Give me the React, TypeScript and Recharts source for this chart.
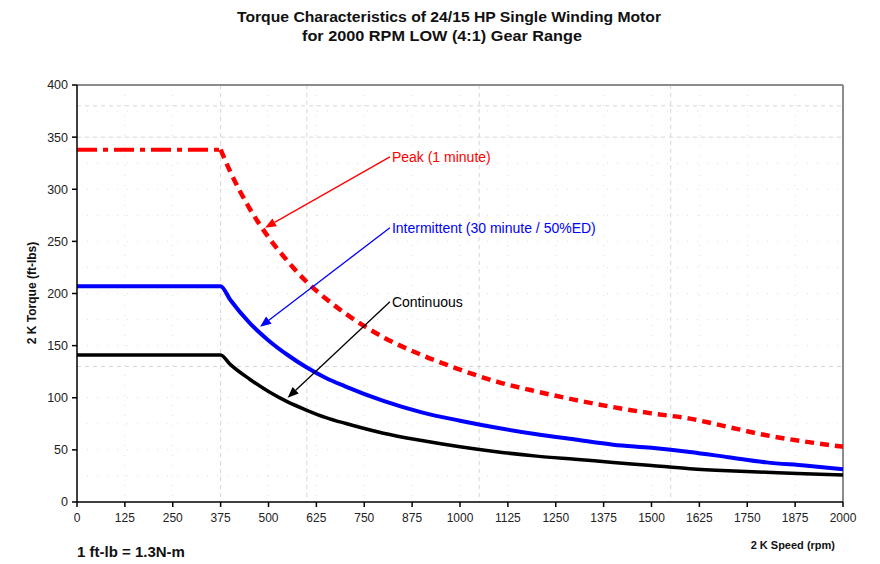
import { LineChart, Line, XAxis, YAxis, CartesianGrid, ReferenceLine } from "recharts";

const speed = [0, 375, 400, 450, 500, 550, 600, 650, 700, 800, 900, 1000, 1100, 1200, 1300, 1400, 1500, 1600, 1700, 1800, 1900, 2000];
const peak = [338, 338, 317, 282, 254, 231, 211, 195, 181, 158, 141, 127, 115, 106, 98, 91, 85, 80, 72, 64, 58, 53];
const intermittent = [207, 207, 194, 172, 155, 141, 129, 119, 111, 97, 86, 78, 71, 65, 60, 55, 52, 48, 43, 38, 35, 31.5];
const continuous = [141, 141, 132, 118, 106, 96, 88, 81, 75.5, 66, 59, 53, 48, 44, 41, 38, 35, 32, 30, 28.5, 27, 26];

const xTicks = [0, 125, 250, 375, 500, 625, 750, 875, 1000, 1125, 1250, 1375, 1500, 1625, 1750, 1875, 2000];
const yTicks = [0, 50, 100, 150, 200, 250, 300, 350, 400];
const dottedRows = [25, 50, 75, 100, 150, 175, 200, 225, 250, 275, 300, 325, 375];
const dashedCols = [375, 600, 1050, 1550];
const dashedRows = [380, 350, 130];

const notes = [
  { text: "Peak (1 minute)", color: "#ff0000", from: { x: 817, y: 331 }, to: { x: 491, y: 263 } },
  { text: "Intermittent (30 minute / 50%ED)", color: "#0000ff", from: { x: 817, y: 263 }, to: { x: 478, y: 168 } },
  { text: "Continuous", color: "#000000", from: { x: 817, y: 192 }, to: { x: 550, y: 100 } },
];

const data = speed.map((s, i) => ({
  speed: s,
  peakFlat: i <= 1 ? peak[i] : null,
  peakFall: i >= 1 ? peak[i] : null,
  intermittent: intermittent[i],
  continuous: continuous[i],
}));

const font = '"Liberation Sans", Arial, sans-serif';

const arrowShape = (text: string, color: string) => (props: any) => {
  const { x1, y1, x2, y2 } = props;
  const ang = Math.atan2(y2 - y1, x2 - x1);
  const len = 11;
  const w = 4.5;
  const bx = x2 - len * Math.cos(ang);
  const by = y2 - len * Math.sin(ang);
  const px = -Math.sin(ang) * w;
  const py = Math.cos(ang) * w;
  return (
    <g>
      <line x1={x1} y1={y1} x2={bx} y2={by} stroke={color} strokeWidth={1.3} />
      <polygon points={`${x2},${y2} ${bx + px},${by + py} ${bx - px},${by - py}`} fill={color} />
      <text x={x1 + 2} y={y1} dy="0.35em" fill={color} fontSize={14} fontFamily={font}>
        {text}
      </text>
    </g>
  );
};

export default function App() {
  return (
    <div style={{ position: "absolute", left: 0, top: 0, width: 880, height: 564, background: "#fff", fontFamily: font }}>
      <LineChart width={880} height={564} data={data} margin={{ top: 85, right: 37, bottom: 0, left: 0 }}>
        <CartesianGrid stroke="#dedede" strokeDasharray="1 9" horizontalValues={dottedRows} verticalValues={xTicks} />
        <CartesianGrid stroke="#d6d6d6" strokeDasharray="4 4" horizontalValues={dashedRows} verticalValues={dashedCols} />
        <ReferenceLine y={400} stroke="#8c8c8c" strokeWidth={2} />
        <ReferenceLine x={2000} stroke="#8c8c8c" strokeWidth={2} />
        <XAxis
          dataKey="speed"
          type="number"
          domain={[0, 2000]}
          ticks={xTicks}
          height={62}
          tickSize={5}
          tickMargin={6}
          stroke="#000"
          strokeWidth={1.5}
          tick={{ fontSize: 12, fill: "#222", fontFamily: font }}
        />
        <YAxis
          type="number"
          domain={[0, 400]}
          ticks={yTicks}
          width={77}
          tickSize={5}
          tickMargin={4}
          stroke="#000"
          strokeWidth={1.5}
          tick={{ fontSize: 12.5, fill: "#222", fontFamily: font }}
        />
        <Line dataKey="continuous" type="monotone" stroke="#000" strokeWidth={3.5} dot={false} isAnimationActive={false} />
        <Line dataKey="intermittent" type="monotone" stroke="#0000ff" strokeWidth={4} dot={false} isAnimationActive={false} />
        <Line dataKey="peakFlat" type="linear" stroke="#ff0000" strokeWidth={4} strokeDasharray="20 6 5 6" dot={false} connectNulls={false} isAnimationActive={false} />
        <Line dataKey="peakFall" type="monotone" stroke="#ff0000" strokeWidth={4.5} strokeDasharray="9 6" dot={false} connectNulls={false} isAnimationActive={false} />
        {notes.map((n) => (
          <ReferenceLine key={n.text} segment={[n.from, n.to]} ifOverflow="visible" shape={arrowShape(n.text, n.color)} />
        ))}
      </LineChart>
      <svg width={880} height={564} style={{ position: "absolute", left: 0, top: 0, pointerEvents: "none" }}>
        <text x={449} y={22} textAnchor="middle" fontSize={14} fontWeight="bold" fontFamily={font} fill="#111" textLength={424} lengthAdjust="spacingAndGlyphs">
          Torque Characteristics of 24/15 HP Single Winding Motor
        </text>
        <text x={442} y={41} textAnchor="middle" fontSize={14} fontWeight="bold" fontFamily={font} fill="#111" textLength={280} lengthAdjust="spacingAndGlyphs">
          for 2000 RPM LOW (4:1) Gear Range
        </text>
        <text transform="translate(36,293) rotate(-90)" textAnchor="middle" fontSize={12} fontWeight="bold" fontFamily={font} fill="#111">
          2 K Torque (ft-lbs)
        </text>
        <text x={835} y={549} textAnchor="end" fontSize={11} fontWeight="bold" fontFamily={font} fill="#111">
          2 K Speed (rpm)
        </text>
        <text x={77} y={557} fontSize={15} fontWeight="bold" fontFamily={font} fill="#111">
          1 ft-lb = 1.3N-m
        </text>
      </svg>
    </div>
  );
}
